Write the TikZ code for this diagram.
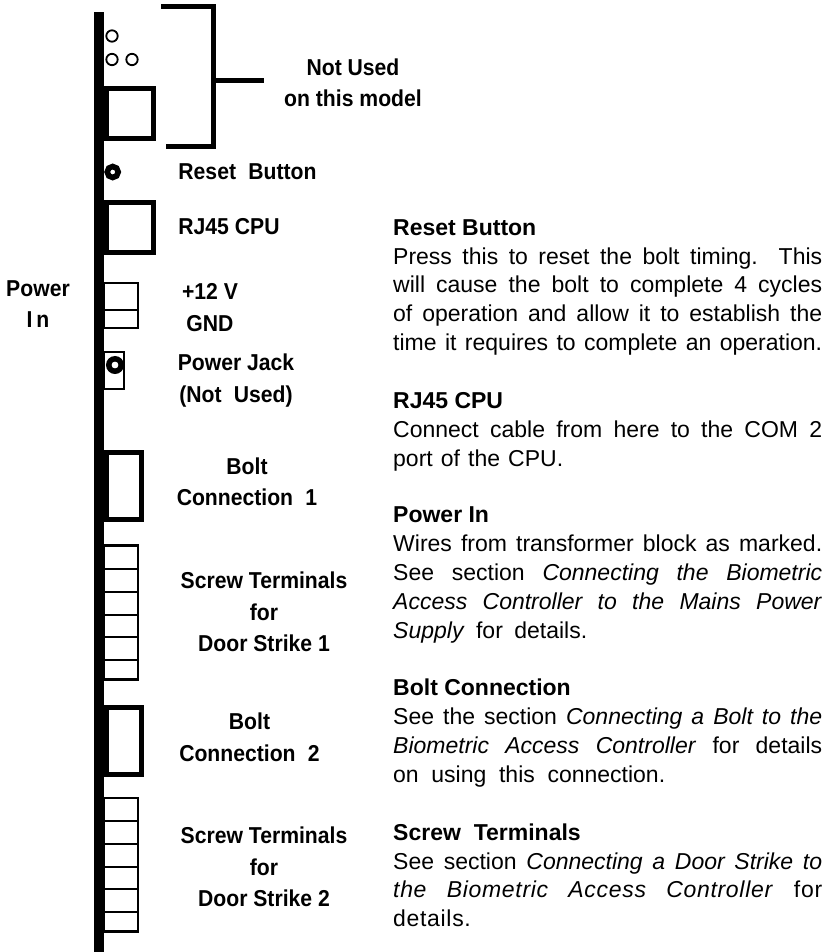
\documentclass[tikz,border=0pt]{standalone}
\usepackage{fontspec}
\setmainfont{Liberation Sans}
\newfontfamily\narrowbf[FakeStretch=0.92]{Liberation Sans Bold}
\newcommand{\jlw}[2]{\hbox to #1{\spaceskip=.278em plus 1fil\relax #2}}
\newcommand{\jl}[1]{\jlw{429pt}{#1}\\}
\newcommand{\hd}[1]{\rule{0pt}{17pt}\textbf{#1}}
\newcommand{\wsp}{\hspace{.28em}}
\tikzset{
 x=1pt,y=-1pt,
 lab/.style={font=\fontsize{23}{31.5}\selectfont\narrowbf,align=center,inner sep=0pt,anchor=center},
 body/.style={font=\fontsize{23}{28.82}\selectfont,align=left,inner sep=0pt,anchor=north west},
 thick1/.style={draw=black,line width=5pt,fill=white},
 thin1/.style={draw=black,line width=2.5pt,fill=white,line cap=butt},
 divider/.style={line width=2.2pt},
 ring/.style={draw=black,line width=1.8pt,fill=white},
 bold1/.style={draw=black,line width=5pt,line cap=butt,miter limit=10}
}
\begin{document}
\begin{tikzpicture}
\useasboundingbox (0,0) rectangle (830,952);
\fill[white] (0,0) rectangle (830,952);
% main bar
\fill (94,12) rectangle (104,952);
% small rings
\draw[ring] (112,36) circle (5.7);
\draw[ring] (112,59.5) circle (5.7);
\draw[ring] (132,59.5) circle (5.7);
% top connector
\draw[thick1] (104,88.5) rectangle (153.3,138.5);
\fill (104,86) rectangle (109.3,141);
% bracket
\draw[bold1] (161,6.5) -- (213,6.5) -- (213,146.5) -- (166,146.5);
\draw[bold1] (213,80.7) -- (264,80.7);
% reset button
\draw[black,line width=5.6pt,fill=white] (112.7,172) circle (5.5);
% RJ45
\draw[thick1] (104,202.5) rectangle (153.3,252.5);
\fill (104,200) rectangle (109.3,255);
% +12V/GND
\draw[thin1] (104,283) rectangle (138,328.2);
\draw[divider] (105,309.7) -- (137,309.7);
% Power jack
\draw[thin1] (104,352) rectangle (124.2,389);
\draw[black,line width=5.5pt,fill=white] (115,365) circle (6.2);
% Bolt 1
\draw[thick1] (104,452.5) rectangle (141.8,519.2);
\fill (104,450) rectangle (109.3,521.7);
% Screw 1
\draw[thin1] (104,545.5) rectangle (138,679.5);
\foreach \yy in {569.3,591.7,615,637.3,660}
  \draw[divider] (105,\yy) -- (137,\yy);
% Bolt 2
\draw[thick1] (104,707.2) rectangle (141.8,774.2);
\fill (104,704.7) rectangle (109.3,776.7);
% Screw 2
\draw[thin1] (104,798) rectangle (138,931.5);
\foreach \yy in {821,843.7,866.7,889,911.7}
  \draw[divider] (105,\yy) -- (137,\yy);
% left labels
\node[lab] (notused) at (353,83) {Not Used\\on this model};
\node[lab] (reset) at (247.5,172) {Reset\wsp{} Button};
\node[lab] (rj) at (229,227) {RJ45 CPU};
\node[lab] (v12) at (210,307.5) {+12 V\\GND};
\node[lab] (jack) at (236,380.5) {Power Jack\\(Not\wsp{} Used)};
\node[lab] (b1) at (247,482) {Bolt\\Connection\wsp{} 1};
\node[lab] (s1) at (264,612) {Screw Terminals\\for\\Door Strike 1};
\node[lab] (b2) at (249.5,737.5) {Bolt\\Connection\wsp{} 2};
\node[lab] (s2) at (264,867) {Screw Terminals\\for\\Door Strike 2};
\node[lab] (pw) at (38,304) {Power\\I\,n};
% right text
\node[body] (t1) at (393,218) {\hd{Reset Button}\\
\jl{Press this to reset the bolt timing.  This}
\jl{will cause the bolt to complete 4 cycles}
\jl{of operation and allow it to establish the}
\jl{time it requires to complete an operation.}};
\node[body] (t2) at (393,391.3) {\hd{RJ45 CPU}\\
\jl{Connect cable from here to the COM 2}
\jlw{170pt}{port of the CPU.}};
\node[body] (t3) at (393,505.6) {\hd{Power In}\\
\jl{Wires from transformer block as marked.}
\jl{See section \textit{Connecting the Biometric}}
\jl{\textit{Access Controller to the Mains Power}}
\jlw{194pt}{\textit{Supply} for details.}};
\node[body] (t4) at (393,678.7) {\hd{Bolt Connection}\\
\jl{See the section \textit{Connecting a Bolt to the}}
\jl{\textit{Biometric Access Controller} for details}
\jlw{272pt}{on using this connection.}};
\node[body] (t5) at (393,823) {\hd{Screw\wsp{} Terminals}\\
\jl{See section \textit{Connecting a Door Strike to}}
\jl{\addfontfeature{LetterSpace=3}\textit{\addfontfeature{LetterSpace=3}the Biometric Access Controller} for}
{\addfontfeature{LetterSpace=3}details.}};
\end{tikzpicture}
\end{document}
